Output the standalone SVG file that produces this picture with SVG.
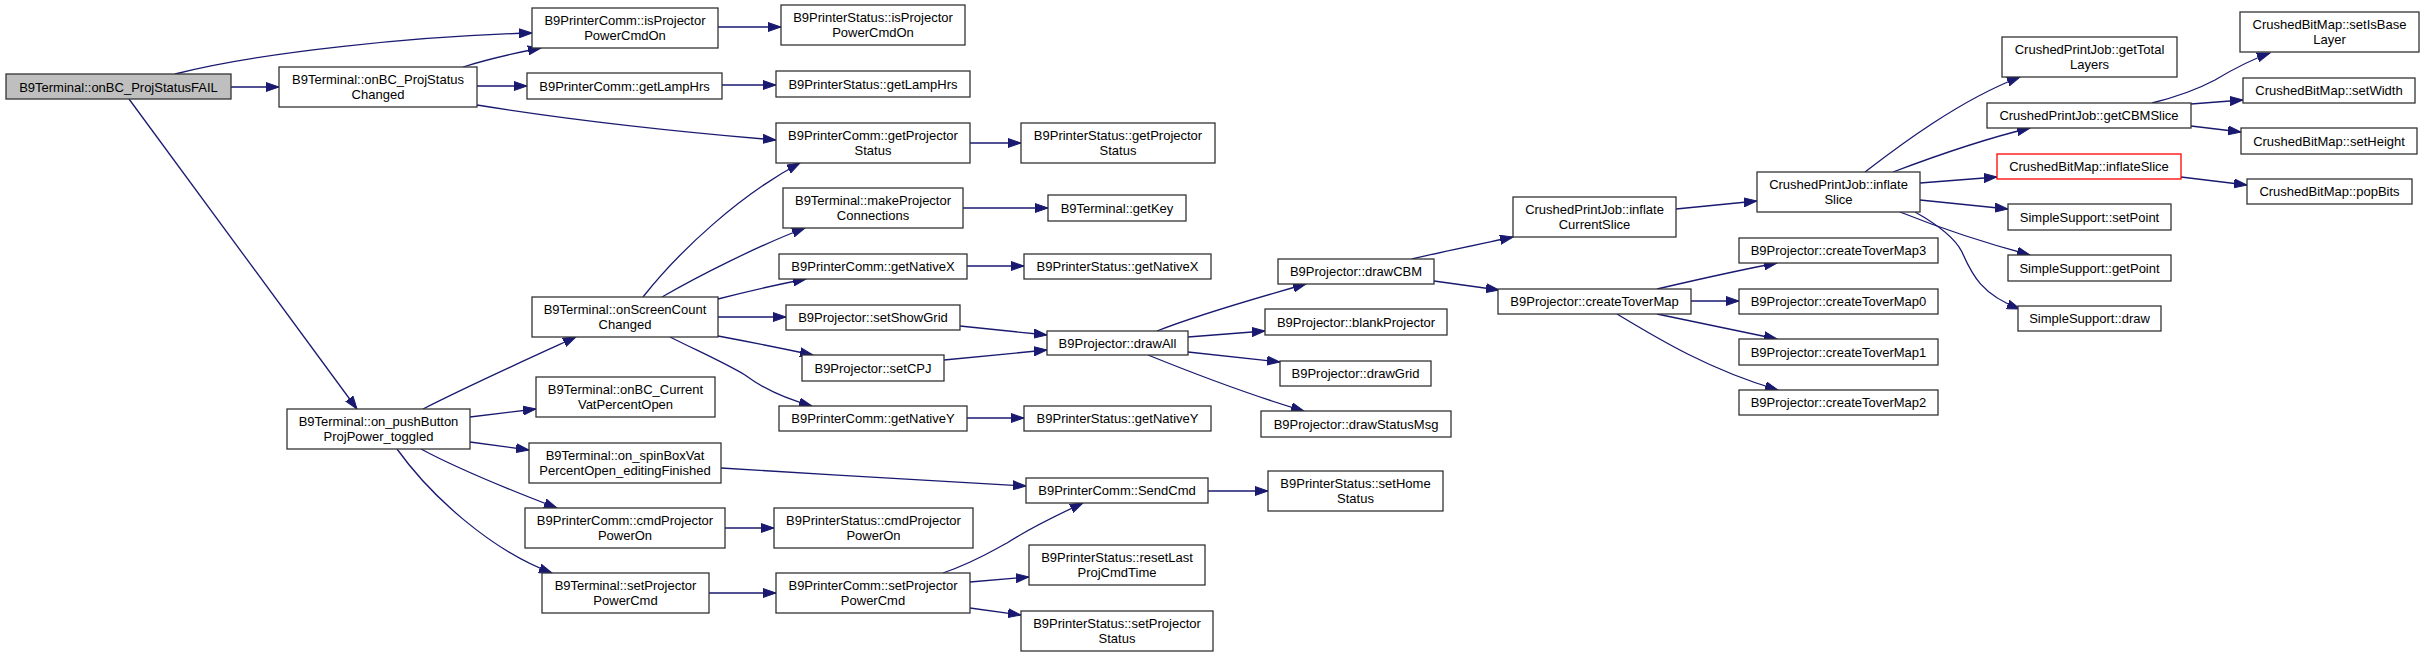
<svg xmlns="http://www.w3.org/2000/svg" width="2424" height="656" viewBox="0 0 2424 656">
<style>
.n rect{fill:#fff;stroke:#333;stroke-width:1.3}
.n text{font-family:"Liberation Sans",Arial,sans-serif;font-size:13px;fill:#000;text-anchor:middle}
#edges path{fill:none;stroke:#191970;stroke-width:1.3;marker-end:url(#a)}
</style>
<defs>
<marker id="a" markerUnits="userSpaceOnUse" markerWidth="14" markerHeight="10" refX="13" refY="5" orient="auto">
<path d="M0,0.5 L13,5 L0,9.5z" fill="#191970" stroke="#191970" stroke-width="1"/>
</marker>
</defs>
<rect width="2424" height="656" fill="#fff"/>
<g id="edges">
<path d="M231,87 L279,87"/>
<path d="M175,74 C260,52 420,36 532,33"/>
<path d="M463,67 C485,60 515,53 541,48"/>
<path d="M477,86 L527,86"/>
<path d="M477,105 C570,120 680,132 776,140"/>
<path d="M129,99 L357,409"/>
<path d="M423,409 C470,385 530,358 576,337"/>
<path d="M470,417 L536,409"/>
<path d="M470,442 L529,450"/>
<path d="M421,449 C460,470 510,490 557,508"/>
<path d="M397,449 C430,495 490,550 552,573"/>
<path d="M643,297 C680,250 740,195 800,163"/>
<path d="M662,297 C700,275 760,245 805,228"/>
<path d="M718,299 C745,292 775,285 806,279"/>
<path d="M718,317 L786,317"/>
<path d="M718,336 C750,342 785,349 813,355"/>
<path d="M670,337 C700,352 725,363 745,375 C765,390 790,400 812,406"/>
<path d="M718,27 L781,27"/>
<path d="M722,85 L776,85"/>
<path d="M970,143 L1021,143"/>
<path d="M963,208 L1048,208"/>
<path d="M967,266 L1024,266"/>
<path d="M960,326 L1047,335"/>
<path d="M944,360 L1047,350"/>
<path d="M967,418 L1024,418"/>
<path d="M1157,331 C1200,314 1260,297 1306,284"/>
<path d="M1188,337 L1265,331"/>
<path d="M1188,352 L1280,362"/>
<path d="M1148,355 C1190,372 1250,395 1304,411"/>
<path d="M721,468 C820,474 950,482 1026,486"/>
<path d="M725,528 L774,528"/>
<path d="M709,593 L776,593"/>
<path d="M943,573 C975,562 990,552 1007,543 C1030,528 1055,516 1083,503"/>
<path d="M970,582 L1029,577"/>
<path d="M970,608 L1021,615"/>
<path d="M1208,491 L1268,491"/>
<path d="M1412,259 C1445,251 1480,244 1513,237"/>
<path d="M1434,281 L1499,290"/>
<path d="M1676,209 L1757,201"/>
<path d="M1657,289 C1700,279 1740,270 1777,263"/>
<path d="M1691,301 L1739,301"/>
<path d="M1657,314 C1700,323 1740,331 1777,339"/>
<path d="M1617,314 C1660,340 1710,370 1778,390"/>
<path d="M1865,172 C1900,145 1960,100 2020,77"/>
<path d="M1893,172 C1930,158 1980,140 2030,128"/>
<path d="M1920,183 L1997,177"/>
<path d="M1920,200 L2008,209"/>
<path d="M1900,212 C1940,228 1985,243 2030,255"/>
<path d="M1915,212 C1940,226 1955,238 1962,252 C1972,275 1982,295 2020,309"/>
<path d="M2152,103 C2180,96 2200,88 2215,80 C2235,68 2250,60 2270,53"/>
<path d="M2191,104 L2243,100"/>
<path d="M2191,126 L2241,132"/>
<path d="M2181,177 L2247,185"/>
</g>
<g id="n0" class="n"><rect x="6" y="74" width="225" height="25" style="fill:#bfbfbf"/><text x="118.5" y="91.5">B9Terminal::onBC_ProjStatusFAIL</text></g>
<g id="n1" class="n"><rect x="279" y="67" width="198" height="40"/><text x="378" y="84">B9Terminal::onBC_ProjStatus</text><text x="378" y="98.5">Changed</text></g>
<g id="n2" class="n"><rect x="532" y="8" width="186" height="40"/><text x="625" y="25">B9PrinterComm::isProjector</text><text x="625" y="39.5">PowerCmdOn</text></g>
<g id="n3" class="n"><rect x="781" y="5" width="184" height="40"/><text x="873" y="22">B9PrinterStatus::isProjector</text><text x="873" y="36.5">PowerCmdOn</text></g>
<g id="n4" class="n"><rect x="527" y="73" width="195" height="26"/><text x="624.5" y="90.5">B9PrinterComm::getLampHrs</text></g>
<g id="n5" class="n"><rect x="776" y="71" width="194" height="26"/><text x="873" y="88.5">B9PrinterStatus::getLampHrs</text></g>
<g id="n6" class="n"><rect x="776" y="123" width="194" height="40"/><text x="873" y="140">B9PrinterComm::getProjector</text><text x="873" y="154.5">Status</text></g>
<g id="n7" class="n"><rect x="1021" y="123" width="194" height="40"/><text x="1118" y="140">B9PrinterStatus::getProjector</text><text x="1118" y="154.5">Status</text></g>
<g id="n8" class="n"><rect x="287" y="409" width="183" height="40"/><text x="378.5" y="426">B9Terminal::on_pushButton</text><text x="378.5" y="440.5">ProjPower_toggled</text></g>
<g id="n9" class="n"><rect x="532" y="297" width="186" height="40"/><text x="625" y="314">B9Terminal::onScreenCount</text><text x="625" y="328.5">Changed</text></g>
<g id="n10" class="n"><rect x="536" y="377" width="179" height="40"/><text x="625.5" y="394">B9Terminal::onBC_Current</text><text x="625.5" y="408.5">VatPercentOpen</text></g>
<g id="n11" class="n"><rect x="529" y="443" width="192" height="40"/><text x="625" y="460">B9Terminal::on_spinBoxVat</text><text x="625" y="474.5">PercentOpen_editingFinished</text></g>
<g id="n12" class="n"><rect x="525" y="508" width="200" height="40"/><text x="625" y="525">B9PrinterComm::cmdProjector</text><text x="625" y="539.5">PowerOn</text></g>
<g id="n13" class="n"><rect x="542" y="573" width="167" height="40"/><text x="625.5" y="590">B9Terminal::setProjector</text><text x="625.5" y="604.5">PowerCmd</text></g>
<g id="n14" class="n"><rect x="783" y="188" width="180" height="40"/><text x="873" y="205">B9Terminal::makeProjector</text><text x="873" y="219.5">Connections</text></g>
<g id="n15" class="n"><rect x="779" y="254" width="188" height="25"/><text x="873" y="271">B9PrinterComm::getNativeX</text></g>
<g id="n16" class="n"><rect x="786" y="305" width="174" height="25"/><text x="873" y="322">B9Projector::setShowGrid</text></g>
<g id="n17" class="n"><rect x="802" y="355" width="142" height="26"/><text x="873" y="372.5">B9Projector::setCPJ</text></g>
<g id="n18" class="n"><rect x="779" y="406" width="188" height="25"/><text x="873" y="423">B9PrinterComm::getNativeY</text></g>
<g id="n19" class="n"><rect x="774" y="508" width="199" height="40"/><text x="873.5" y="525">B9PrinterStatus::cmdProjector</text><text x="873.5" y="539.5">PowerOn</text></g>
<g id="n20" class="n"><rect x="776" y="573" width="194" height="40"/><text x="873" y="590">B9PrinterComm::setProjector</text><text x="873" y="604.5">PowerCmd</text></g>
<g id="n21" class="n"><rect x="1048" y="195" width="138" height="26"/><text x="1117" y="212.5">B9Terminal::getKey</text></g>
<g id="n22" class="n"><rect x="1024" y="254" width="187" height="25"/><text x="1117.5" y="271">B9PrinterStatus::getNativeX</text></g>
<g id="n23" class="n"><rect x="1047" y="331" width="141" height="24"/><text x="1117.5" y="347.5">B9Projector::drawAll</text></g>
<g id="n24" class="n"><rect x="1024" y="406" width="187" height="25"/><text x="1117.5" y="423">B9PrinterStatus::getNativeY</text></g>
<g id="n25" class="n"><rect x="1026" y="478" width="182" height="25"/><text x="1117" y="495">B9PrinterComm::SendCmd</text></g>
<g id="n26" class="n"><rect x="1029" y="545" width="176" height="40"/><text x="1117" y="562">B9PrinterStatus::resetLast</text><text x="1117" y="576.5">ProjCmdTime</text></g>
<g id="n27" class="n"><rect x="1021" y="611" width="192" height="40"/><text x="1117" y="628">B9PrinterStatus::setProjector</text><text x="1117" y="642.5">Status</text></g>
<g id="n28" class="n"><rect x="1278" y="259" width="156" height="25"/><text x="1356" y="276">B9Projector::drawCBM</text></g>
<g id="n29" class="n"><rect x="1265" y="309" width="182" height="26"/><text x="1356" y="326.5">B9Projector::blankProjector</text></g>
<g id="n30" class="n"><rect x="1280" y="361" width="151" height="25"/><text x="1355.5" y="378">B9Projector::drawGrid</text></g>
<g id="n31" class="n"><rect x="1261" y="411" width="190" height="26"/><text x="1356" y="428.5">B9Projector::drawStatusMsg</text></g>
<g id="n32" class="n"><rect x="1268" y="471" width="175" height="40"/><text x="1355.5" y="488">B9PrinterStatus::setHome</text><text x="1355.5" y="502.5">Status</text></g>
<g id="n33" class="n"><rect x="1513" y="197" width="163" height="40"/><text x="1594.5" y="214">CrushedPrintJob::inflate</text><text x="1594.5" y="228.5">CurrentSlice</text></g>
<g id="n34" class="n"><rect x="1498" y="289" width="193" height="25"/><text x="1594.5" y="306">B9Projector::createToverMap</text></g>
<g id="n35" class="n"><rect x="1757" y="172" width="163" height="40"/><text x="1838.5" y="189">CrushedPrintJob::inflate</text><text x="1838.5" y="203.5">Slice</text></g>
<g id="n36" class="n"><rect x="1739" y="238" width="199" height="25"/><text x="1838.5" y="255">B9Projector::createToverMap3</text></g>
<g id="n37" class="n"><rect x="1739" y="289" width="199" height="25"/><text x="1838.5" y="306">B9Projector::createToverMap0</text></g>
<g id="n38" class="n"><rect x="1739" y="339" width="199" height="26"/><text x="1838.5" y="356.5">B9Projector::createToverMap1</text></g>
<g id="n39" class="n"><rect x="1739" y="390" width="199" height="25"/><text x="1838.5" y="407">B9Projector::createToverMap2</text></g>
<g id="n40" class="n"><rect x="2002" y="37" width="175" height="40"/><text x="2089.5" y="54">CrushedPrintJob::getTotal</text><text x="2089.5" y="68.5">Layers</text></g>
<g id="n41" class="n"><rect x="1987" y="103" width="204" height="25"/><text x="2089" y="120">CrushedPrintJob::getCBMSlice</text></g>
<g id="n42" class="n"><rect x="1997" y="154" width="184" height="25" style="stroke:#ff0000"/><text x="2089" y="171">CrushedBitMap::inflateSlice</text></g>
<g id="n43" class="n"><rect x="2008" y="204" width="163" height="26"/><text x="2089.5" y="221.5">SimpleSupport::setPoint</text></g>
<g id="n44" class="n"><rect x="2008" y="255" width="163" height="26"/><text x="2089.5" y="272.5">SimpleSupport::getPoint</text></g>
<g id="n45" class="n"><rect x="2018" y="306" width="143" height="25"/><text x="2089.5" y="323">SimpleSupport::draw</text></g>
<g id="n46" class="n"><rect x="2240" y="12" width="179" height="40"/><text x="2329.5" y="29">CrushedBitMap::setIsBase</text><text x="2329.5" y="43.5">Layer</text></g>
<g id="n47" class="n"><rect x="2243" y="78" width="172" height="25"/><text x="2329" y="95">CrushedBitMap::setWidth</text></g>
<g id="n48" class="n"><rect x="2241" y="128" width="176" height="26"/><text x="2329" y="145.5">CrushedBitMap::setHeight</text></g>
<g id="n49" class="n"><rect x="2247" y="179" width="165" height="25"/><text x="2329.5" y="196">CrushedBitMap::popBits</text></g>
</svg>
